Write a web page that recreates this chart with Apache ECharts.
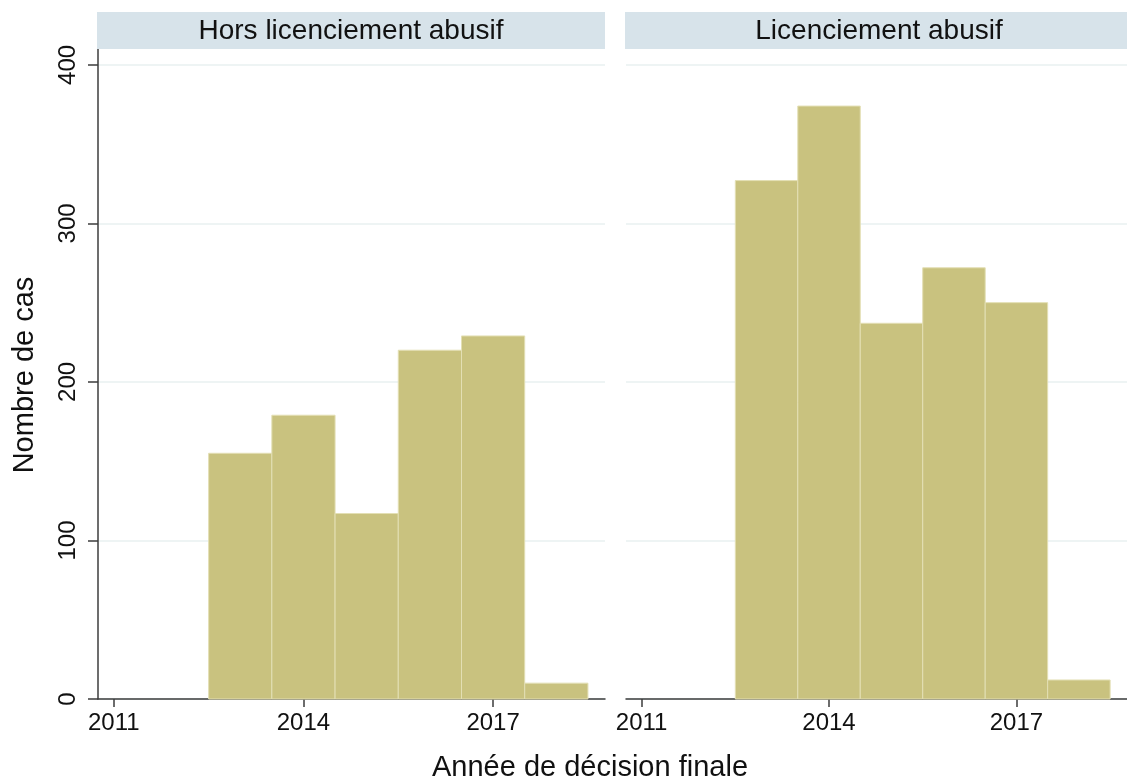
<!DOCTYPE html>
<html>
<head>
<meta charset="utf-8">
<script src="https://cdn.jsdelivr.net/npm/echarts@6/dist/echarts.min.js"></script>
<style>
html,body{margin:0;padding:0;background:#fff;}
#chart{width:1127px;height:783px;}
</style>
</head>
<body>
<div id="chart"></div>
<script>
// ---- data ----
var panelTitles = ['Hors licenciement abusif', 'Licenciement abusif'];
var binCenters = [2013, 2014, 2015, 2016, 2017, 2018];
var binWidth = 1;
var horsValues = [155, 179, 117, 220, 229, 10];
var abusifValues = [327, 374, 237, 272, 250, 12];
var xTicks = [2011, 2014, 2017];
var yTicks = [0, 100, 200, 300, 400];
var yTitle = 'Nombre de cas';
var xTitle = 'Année de décision finale';

// ---- chart ----
var FONT = "'Liberation Sans', Arial, Helvetica, sans-serif";
var chart = echarts.init(document.getElementById('chart'), null, {renderer: 'canvas'});

var grids = [
  {left: 98, top: 49, width: 507, height: 650},
  {left: 626, top: 49, width: 507, height: 650}
];

function xAxisCfg(i) {
  return {
    type: 'value', gridIndex: i, min: 2010.75, max: 2018.77,
    axisLine: {show: true, onZero: false, lineStyle: {color: '#3c3c3c', width: 1.5}},
    axisTick: {show: true, length: 8, customValues: xTicks, lineStyle: {color: '#3c3c3c', width: 1.5}},
    axisLabel: {show: true, customValues: xTicks, margin: 12, color: '#111', fontSize: 24, fontFamily: FONT,
      formatter: function (v) { return String(v); }},
    splitLine: {show: false}
  };
}
function yAxisCfg(i) {
  var left = i === 0;
  return {
    type: 'value', gridIndex: i, min: 0, max: 410,
    axisLine: {show: left, lineStyle: {color: '#3c3c3c', width: 1.5}},
    axisTick: {show: left, length: 10, customValues: yTicks, lineStyle: {color: '#3c3c3c', width: 1.5}},
    axisLabel: {show: left, customValues: yTicks, rotate: 90, margin: 18, color: '#111', fontSize: 24, fontFamily: FONT},
    splitLine: {show: true, lineStyle: {color: '#e8f0f1', width: 1.5}}
  };
}

function histSeries(i, values) {
  return {
    type: 'custom', xAxisIndex: i, yAxisIndex: i,
    data: binCenters.map(function (c, k) { return [c, values[k]]; }),
    encode: {x: 0, y: 1},
    renderItem: function (params, api) {
      var c = api.value(0), v = api.value(1);
      var p0 = api.coord([c - binWidth / 2, 0]);
      var p1 = api.coord([c + binWidth / 2, v]);
      return {
        type: 'rect',
        shape: {x: p0[0], y: p1[1], width: p1[0] - p0[0], height: p0[1] - p1[1]},
        style: {fill: '#c9c27f', stroke: '#e3dfb4', lineWidth: 1}
      };
    },
    z: 3
  };
}

var option = {
  backgroundColor: '#ffffff',
  animation: false,
  grid: grids,
  xAxis: [xAxisCfg(0), xAxisCfg(1)],
  yAxis: [yAxisCfg(0), yAxisCfg(1)],
  series: [histSeries(0, horsValues), histSeries(1, abusifValues)],
  graphic: [
    {type: 'rect', left: 97, top: 12, shape: {width: 508, height: 37}, style: {fill: '#d7e3ea'}, z: 1},
    {type: 'rect', left: 625, top: 12, shape: {width: 508, height: 37}, style: {fill: '#d7e3ea'}, z: 1},
    {type: 'text', x: 351, y: 31, style: {text: panelTitles[0], fill: '#111', font: '28px ' + FONT, textAlign: 'center', textVerticalAlign: 'middle'}, z: 2},
    {type: 'text', x: 879, y: 31, style: {text: panelTitles[1], fill: '#111', font: '28px ' + FONT, textAlign: 'center', textVerticalAlign: 'middle'}, z: 2},
    {type: 'text', x: 590, y: 768, style: {text: xTitle, fill: '#111', font: '29px ' + FONT, textAlign: 'center', textVerticalAlign: 'middle'}, z: 2},
    {type: 'text', x: 25, y: 375, rotation: Math.PI / 2, style: {text: yTitle, fill: '#111', font: '29px ' + FONT, textAlign: 'center', textVerticalAlign: 'middle'}, z: 2}
  ]
};
chart.setOption(option);
</script>
</body>
</html>
